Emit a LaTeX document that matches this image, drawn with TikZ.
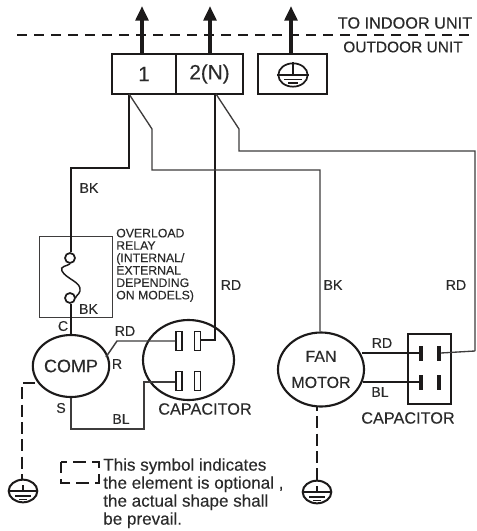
\documentclass[tikz,border=0pt]{standalone}
\usepackage{fontspec}
\setmainfont[FakeBold=0.25]{Liberation Sans}
\usetikzlibrary{shapes.geometric,arrows.meta,calc}
\definecolor{ink}{HTML}{1C1A1A}
\definecolor{thinink}{HTML}{3E3C3C}
\definecolor{txt}{HTML}{2A2A2A}
\tikzset{
  px/.style={x=0.75pt,y=-0.75pt},
  wirebold/.style={draw=ink,line width=2.2pt,line join=miter},
  wirethin/.style={draw=thinink,line width=1pt,line join=miter},
  boxline/.style={draw=ink,line width=1.4pt},
  relayline/.style={draw=thinink,line width=0.7pt},
  upwire/.style={draw=ink,line width=3pt,-{Triangle[width=9.5pt,length=11pt]}},
  optline/.style={draw=ink,line width=2.1pt,dash pattern=on 9pt off 4pt},
  optbox/.style={draw=ink,line width=1.6pt,dash pattern=on 9.75pt off 4.5pt,dash phase=5.25pt},
  lab/.style={text=txt,inner sep=0pt,font=\fontsize{10.6}{12}\selectfont},
  plate/.style={draw=ink,line width=0.95pt,fill=white,inner sep=0pt},
  barplate/.style={fill=ink,inner sep=0pt,minimum width=2.6pt,minimum height=11.25pt},
  motor/.style={ellipse,draw=ink,line width=1.6pt,inner sep=0pt,text=txt,align=center},
  cell/.style={rectangle,boxline,inner sep=0pt,text=txt,font=\fontsize{15.5}{18}\selectfont},
  groundring/.style={ellipse,draw=ink,line width=1.5pt,inner sep=0pt,minimum width=21.5pt,minimum height=17pt},
  pics/earthmark/.style={code={
    \draw[draw=ink,line width=1.3pt] (-14,0) -- (14,0);
    \draw[draw=ink,line width=1.2pt] (-8,5) -- (8,5);
    \draw[draw=ink,line width=1.1pt] (-4,8.5) -- (4,8.5);
    \draw[draw=ink,line width=1.3pt] (0,0) -- (0,-6);
  }}
}
\begin{document}
\begin{tikzpicture}[px]
\useasboundingbox (0,0) rectangle (476,531);

% unit boundary
\coordinate (bl) at (17,35);
\coordinate (br) at (474,35);
\draw[draw=ink,line width=1.3pt,dash pattern=on 7.5pt off 5.25pt] (bl) -- (br);
\node[lab,font=\fontsize{12.2}{14}\selectfont] (toin) at (405,23) {TO INDOOR UNIT};
\node[lab,font=\fontsize{11.6}{14}\selectfont] (toout) at (403,47) {OUTDOOR UNIT};

% terminal block
\node[cell,minimum width=48pt,minimum height=30.5pt] (t1) at (144,74) {1};
\node[cell,minimum width=50pt,minimum height=30.5pt] (t2) at (209.5,74) {2(N)};
\node[cell,minimum width=52pt,minimum height=30.5pt] (t3) at (292.5,74) {};
\node[groundring,minimum width=22pt,minimum height=17.5pt,line width=1.3pt] (g0) at (293,75) {};
\draw[draw=ink,line width=1pt] (g0.west) -- (g0.east);
\draw[draw=ink,line width=1pt] (284,79.5) -- (302,79.5);
\draw[draw=ink,line width=1pt] (288,83) -- (298,83);
\draw[draw=ink,line width=1pt] (g0.north) -- (g0.center);

\coordinate (a1) at (142,6);
\coordinate (a2) at (210,6);
\coordinate (a3) at (291,6);
\draw[upwire] (t1.north -| a1) -- (a1);
\draw[upwire] (t2.north -| a2) -- (a2);
\draw[upwire] (t3.north -| a3) -- (a3);

% compressor side
\node[motor,minimum width=54.75pt,minimum height=46.5pt,font=\fontsize{13.5}{16}\selectfont] (comp) at (71,366) {COMP};
\node[motor,minimum width=68.25pt,minimum height=60pt] (cap1) at (188.5,360) {};
\node[plate,minimum width=4.5pt,minimum height=14.25pt] (p1) at (179,341) {};
\node[plate,minimum width=4.5pt,minimum height=14.25pt] (p2) at (197.5,341) {};
\node[plate,minimum width=4.5pt,minimum height=14.25pt] (p3) at (179,381) {};
\node[plate,minimum width=4.5pt,minimum height=14.25pt] (p4) at (197.5,381) {};

% overload relay
\node[rectangle,relayline,minimum width=54.75pt,minimum height=60.75pt,inner sep=0pt] (relay) at (75.5,276.5) {};
\node[circle,draw=ink,line width=1.3pt,fill=white,minimum size=7.5pt,inner sep=0pt] (f1) at (70,258) {};
\node[circle,draw=ink,line width=1.3pt,fill=white,minimum size=7.5pt,inner sep=0pt] (f2) at (70,298) {};
\draw[draw=ink,line width=1.1pt] (f1.south) .. controls (68,266) and (59,266) .. (62,271)
  .. controls (66,279) and (82,282) .. (80,291) .. controls (79,295) and (75,296) .. (f2.east);

% main wires
\coordinate (w1a) at (129,94);
\coordinate (w1b) at (129,168);
\coordinate (w1c) at (71,168);
\draw[wirebold] (w1a) -- (w1b) -- (w1c) -- (f1.north -| w1c);
\draw[wirebold] (f2.south -| w1c) -- (comp.north);
\coordinate (w2a) at (215,94);
\coordinate (w2b) at (215,340);
\draw[wirebold] (w2a) -- (w2b) -- (p2.east |- w2b);

\coordinate (t1b) at (152,129);
\coordinate (t1c) at (152,170);
\coordinate (t1d) at (320,170);
\node[motor,minimum width=64.5pt,minimum height=55.5pt,font=\fontsize{12}{19.5}\selectfont] (fan) at (321,369.5) {FAN\\MOTOR};
\draw[wirethin] (w1a) -- (t1b) -- (t1c) -- (t1d) -- (fan.north -| t1d);

\coordinate (t2a) at (216,94);
\coordinate (t2b) at (239,129);
\coordinate (t2c) at (239,151);
\coordinate (t2d) at (475,151);
\coordinate (t2e) at (475,351);
\draw[wirethin] (t2a) -- (t2b) -- (t2c) -- (t2d) -- (t2e);

% compressor to capacitor
\coordinate (r1) at (106,357);
\coordinate (r2) at (117,341);
\draw[wirethin,line width=1.1pt] (r1) -- (r2) -- (p1.west |- r2);
\coordinate (s1) at (71,429);
\coordinate (s2) at (144,429);
\coordinate (s3) at (144,382);
\draw[wirethin,line width=1.2pt] (comp.south) -- (s1) -- (s2) -- (s3) -- (p3.west |- s3);

% fan capacitor
\node[rectangle,draw=ink,line width=1.6pt,minimum width=32.25pt,minimum height=52.5pt,inner sep=0pt] (cap2) at (429.5,369) {};
\node[barplate] (q1) at (421,353) {};
\node[barplate] (q2) at (439,353) {};
\node[barplate] (q3) at (421,382) {};
\node[barplate] (q4) at (439,382) {};
\draw[wirebold,line width=1.6pt] (362,353) -- (q1.west);
\draw[wirebold,line width=1.6pt] (363,382) -- (q3.west);
\draw[wirethin] (q2.east) -- (t2e);

% optional earth
\coordinate (d1) at (35,383);
\coordinate (d2) at (22,383);
\node[groundring] (g1) at (23,491) {};
\pic at (g1.center) {earthmark};
\draw[optline] (d1) -- (d2) -- (g1.north -| d2);
\coordinate (d3) at (317,407);
\node[groundring] (g2) at (317,492) {};
\pic at (g2.center) {earthmark};
\draw[optline,dash phase=6pt] (d3) -- (g2.north);

% labels
\node[lab] (l1) at (89,188) {BK};
\node[lab] (l2) at (88.5,309) {BK};
\node[lab] (l3) at (63,326) {C};
\node[lab] (l4) at (125,331) {RD};
\node[lab] (l5) at (117,364) {R};
\node[lab] (l6) at (61,408) {S};
\node[lab] (l7) at (121,419) {BL};
\node[lab] (l8) at (231,285) {RD};
\node[lab] (l9) at (333,285) {BK};
\node[lab] (l10) at (456,285) {RD};
\node[lab] (l11) at (382,343) {RD};
\node[lab] (l12) at (380,392) {BL};
\node[lab,font=\fontsize{12.2}{14}\selectfont] (c1) at (205,409) {CAPACITOR};
\node[lab,font=\fontsize{12.2}{14}\selectfont] (c2) at (408,418) {CAPACITOR};
\node[lab,anchor=north west,align=left,font=\fontsize{9.2}{9.3}\selectfont] (ov) at (116,228.5) {OVERLOAD\\RELAY\\(INTERNAL/\\EXTERNAL\\DEPENDING\\ON MODELS)};

% legend
\draw[optbox] (61,462) -- (99,462) -- (99,483) -- (61,483) -- cycle;
\node[lab,anchor=north west,align=left,font=\fontsize{12.8}{13.5}\selectfont] (leg) at (103,458) {This symbol indicates\\the element is optional ,\\the actual shape shall\\be prevail.};
\end{tikzpicture}
\end{document}
